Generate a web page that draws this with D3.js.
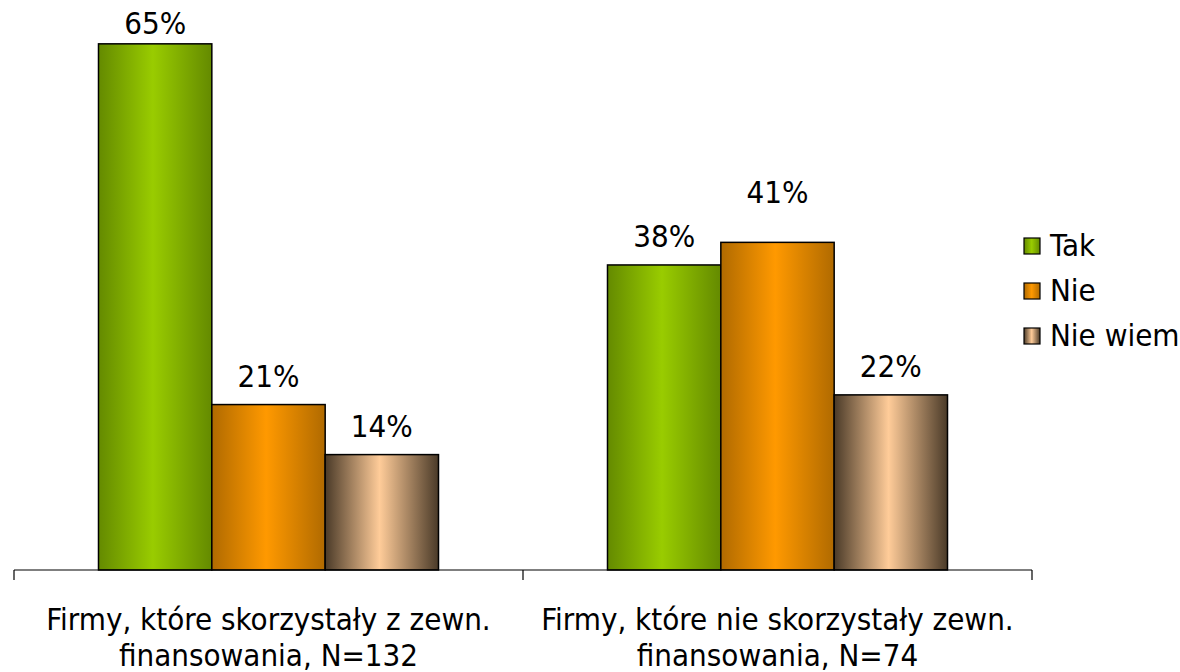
<!DOCTYPE html>
<html>
<head>
<meta charset="utf-8">
<script src="https://cdn.jsdelivr.net/npm/d3@7"></script>
<style>
  body { margin: 0; background: #fff; }
  text { font-family: 'DejaVu Sans Condensed', 'DejaVu Sans', Tahoma, sans-serif; font-stretch: condensed; fill: #000; }
</style>
</head>
<body>
<div id="chart"></div>
<script>
// data
const categories = [
  ['Firmy, które skorzystały z zewn.', 'finansowania, N=132'],
  ['Firmy, które nie skorzystały zewn.', 'finansowania, N=74']
];
const seriesNames = ['Tak', 'Nie', 'Nie wiem'];
const tak = [0.652, 0.378];
const nie = [0.205, 0.406];
const nieWiem = [0.143, 0.217];
const seriesValues = [tak, nie, nieWiem];

// colours: [edge, centre]
const colors = [
  ['#648a00', '#99cc00'],
  ['#b06a00', '#ff9900'],
  ['#4a3a28', '#ffcc99']
];

const width = 1180, height = 672;
const baseY = 570;
const labelTop = 34; // labels never go above this baseline
const fontSize = '31px';

const svg = d3.select('#chart')
  .append('svg')
  .attr('width', width)
  .attr('height', height);

// gradients
const defs = svg.append('defs');
colors.forEach((c, i) => {
  const g = defs.append('linearGradient')
    .attr('id', 'grad' + i)
    .attr('x1', '0%').attr('x2', '100%')
    .attr('y1', '0%').attr('y2', '0%');
  g.append('stop').attr('offset', '0%').attr('stop-color', c[0]);
  g.append('stop').attr('offset', '48%').attr('stop-color', c[1]);
  g.append('stop').attr('offset', '100%').attr('stop-color', c[0]);
});

const x0 = d3.scaleBand()
  .domain(d3.range(categories.length))
  .range([14, 1032])
  .paddingInner(0.332)
  .paddingOuter(0.166);

const x1 = d3.scaleBand()
  .domain(d3.range(seriesNames.length))
  .range([0, x0.bandwidth()]);

const y = d3.scaleLinear()
  .domain([0, 0.70])
  .range([baseY, baseY - 0.70 * 807]);

const pct = v => Math.round(v * 100) + '%';

// bars
const groups = svg.selectAll('g.group')
  .data(categories)
  .enter()
  .append('g')
  .attr('class', 'group')
  .attr('transform', (d, i) => `translate(${x0(i)},0)`);

groups.each(function (d, ci) {
  const g = d3.select(this);
  seriesValues.forEach((vals, si) => {
    g.append('rect')
      .attr('x', x1(si))
      .attr('y', y(vals[ci]))
      .attr('width', x1.bandwidth())
      .attr('height', baseY - y(vals[ci]))
      .attr('fill', `url(#grad${si})`)
      .attr('stroke', '#000')
      .attr('stroke-width', 1.5);

    // the 41% label sits higher in the original, nudged clear of 38%
    const nudge = (ci === 1 && si === 1) ? 21 : 0;
    g.append('text')
      .attr('x', x1(si) + x1.bandwidth() / 2)
      .attr('y', Math.max(y(vals[ci]) - 18 - nudge, labelTop))
      .attr('text-anchor', 'middle')
      .attr('font-size', fontSize)
      .text(pct(vals[ci]));
  });
});

// x axis
const axis = svg.append('g');
axis.append('line')
  .attr('x1', 14).attr('x2', 1032)
  .attr('y1', baseY).attr('y2', baseY)
  .attr('stroke', '#000').attr('stroke-width', 1.2);
const ticks = [14, 14 + x0.step(), 14 + 2 * x0.step()];
axis.selectAll('line.tick')
  .data(ticks)
  .enter()
  .append('line')
  .attr('class', 'tick')
  .attr('x1', d => d).attr('x2', d => d)
  .attr('y1', baseY).attr('y2', baseY + 10)
  .attr('stroke', '#000').attr('stroke-width', 1.2);

// category labels
categories.forEach((lines, i) => {
  const t = svg.append('text')
    .attr('text-anchor', 'middle')
    .attr('font-size', fontSize);
  lines.forEach((l, j) => {
    t.append('tspan')
      .attr('x', x0(i) + x0.bandwidth() / 2)
      .attr('y', 630 + j * 36)
      .text(l);
  });
});

// legend
const legend = svg.selectAll('g.legend')
  .data(seriesNames)
  .enter()
  .append('g')
  .attr('class', 'legend')
  .attr('transform', (d, i) => `translate(1024, ${238 + i * 45})`);

legend.append('rect')
  .attr('width', 16).attr('height', 16)
  .attr('fill', (d, i) => `url(#grad${i})`)
  .attr('stroke', '#000')
  .attr('stroke-width', 1.2);

legend.append('text')
  .attr('x', 26)
  .attr('y', 18)
  .attr('font-size', fontSize)
  .text(d => d);
</script>
</body>
</html>
